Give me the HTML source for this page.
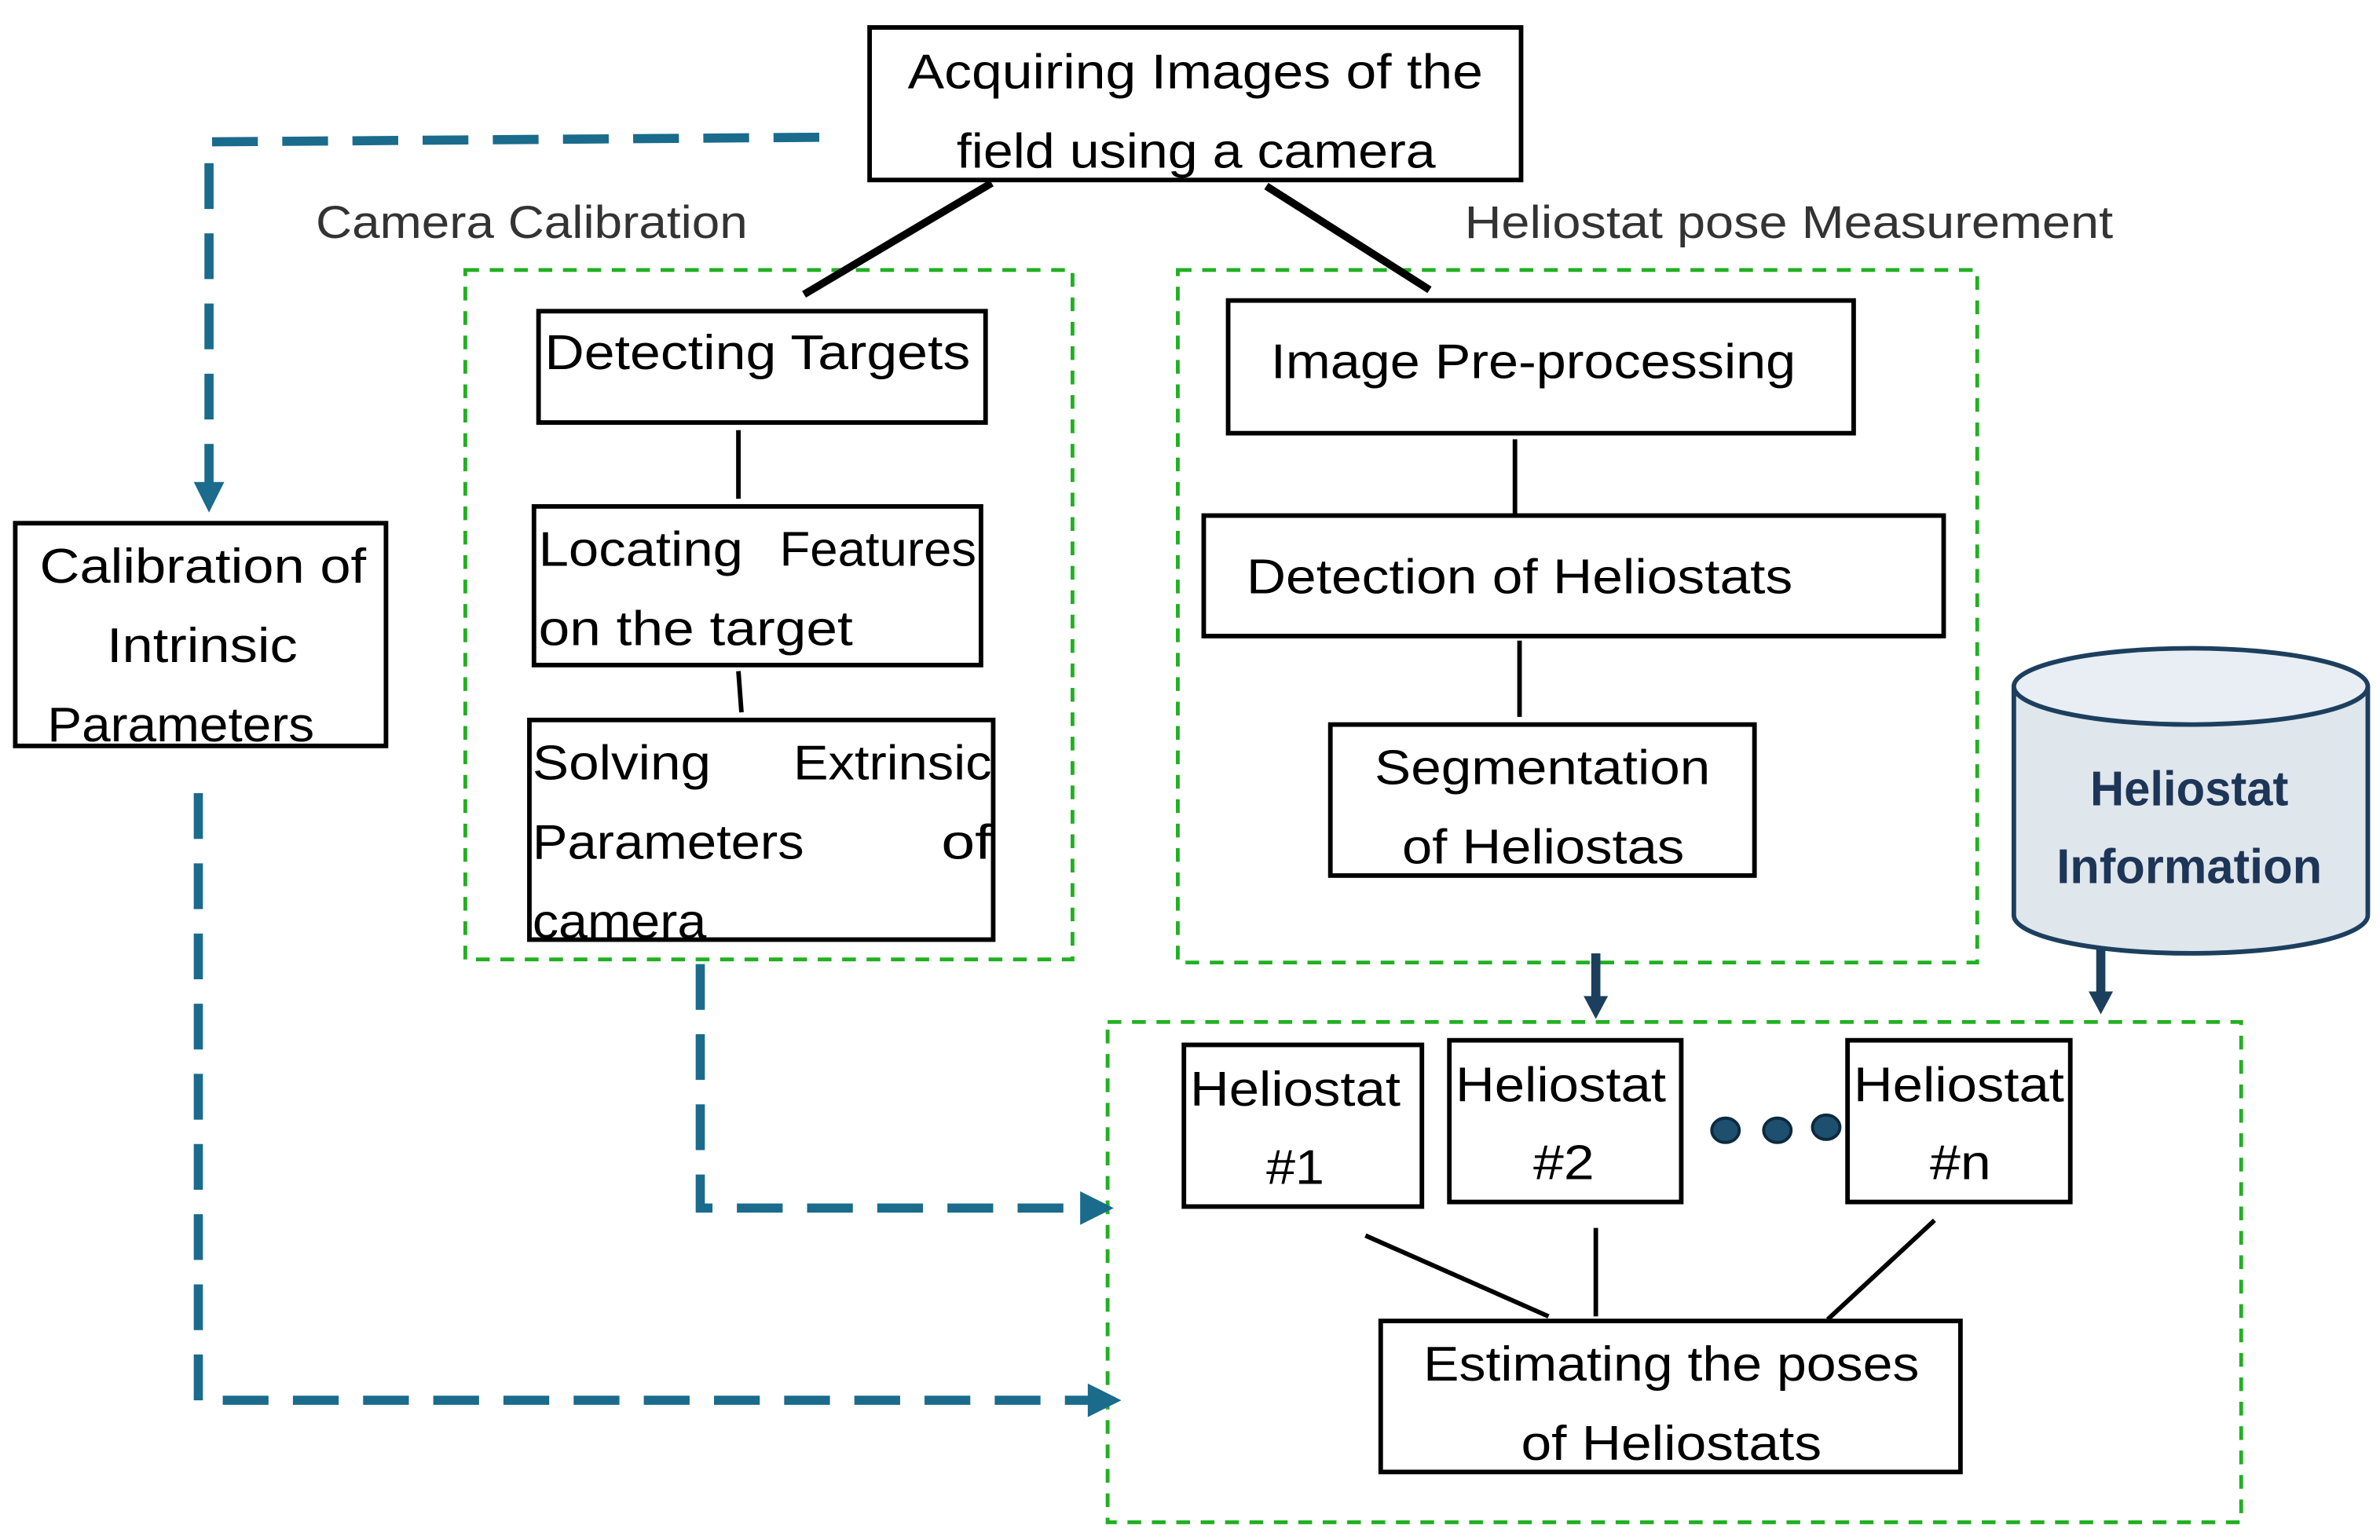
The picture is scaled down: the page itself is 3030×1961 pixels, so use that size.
<!DOCTYPE html>
<html><head><meta charset="utf-8"><style>
html,body{margin:0;padding:0;background:#fff;}
svg{display:block;}
text{font-family:"Liberation Sans","DejaVu Sans",sans-serif;font-size:32px;fill:#000;}
.lt{font-size:30px;fill:#333;}
.bx{fill:#fff;stroke:#000;stroke-width:3;}
.gd{fill:none;stroke:#22b022;stroke-width:2.5;stroke-dasharray:9 7;}
.bd{fill:none;stroke:#1a6b8c;stroke-width:6;stroke-dasharray:30 16;}
.ln{stroke:#000;stroke-width:3;}
</style></head><body>
<svg width="3030" height="1961" viewBox="0 0 1560 1009.6" preserveAspectRatio="none" xmlns="http://www.w3.org/2000/svg">
<rect width="1560" height="1010" fill="#fff"/>
<rect class="gd" x="305" y="177" width="398" height="452"/>
<rect class="gd" x="772" y="177" width="524" height="454"/>
<rect class="gd" x="726" y="670" width="743" height="328"/>
<polyline class="bd" points="537,90 137,93 137,318"/>
<polygon points="127,316 147,316 137,336" fill="#1a6b8c"/>
<polyline class="bd" points="130,520 130,918 715,918"/>
<polygon points="713,907 713,929 735,918" fill="#1a6b8c"/>
<polyline class="bd" points="459,632 459,792 710,792"/>
<polygon points="708,781 708,803 730,792" fill="#1a6b8c"/>
<line x1="650" y1="120" x2="527" y2="193" stroke="#000" stroke-width="5"/>
<line x1="830" y1="122" x2="937" y2="190" stroke="#000" stroke-width="5"/>
<line class="ln" x1="484" y1="282" x2="484" y2="327"/>
<line class="ln" x1="484" y1="440" x2="486" y2="467"/>
<line class="ln" x1="993" y1="288" x2="993" y2="337"/>
<line class="ln" x1="996" y1="420" x2="996" y2="470"/>
<line class="ln" x1="895" y1="810" x2="1015" y2="863"/>
<line class="ln" x1="1046" y1="805" x2="1046" y2="863"/>
<line class="ln" x1="1268" y1="800" x2="1198" y2="865"/>
<rect class="bx" x="570" y="18" width="427" height="100"/>
<text x="595" y="58" textLength="377" lengthAdjust="spacingAndGlyphs">Acquiring Images of the</text>
<text x="627" y="110" textLength="314" lengthAdjust="spacingAndGlyphs">field using a camera</text>
<text class="lt" x="207" y="156" textLength="283" lengthAdjust="spacingAndGlyphs">Camera Calibration</text>
<text class="lt" x="960" y="156" textLength="425" lengthAdjust="spacingAndGlyphs">Heliostat pose Measurement</text>
<rect class="bx" x="353" y="204" width="293" height="73"/>
<text x="357" y="242" textLength="279" lengthAdjust="spacingAndGlyphs">Detecting Targets</text>
<rect class="bx" x="350" y="332" width="293" height="104"/>
<text x="353" y="371" textLength="134" lengthAdjust="spacingAndGlyphs">Locating</text>
<text x="511" y="371" textLength="129" lengthAdjust="spacingAndGlyphs">Features</text>
<text x="353" y="423" textLength="206" lengthAdjust="spacingAndGlyphs">on the target</text>
<rect class="bx" x="347" y="472" width="304" height="144"/>
<text x="349" y="511" textLength="117" lengthAdjust="spacingAndGlyphs">Solving</text>
<text x="520" y="511" textLength="130" lengthAdjust="spacingAndGlyphs">Extrinsic</text>
<text x="349" y="563" textLength="178" lengthAdjust="spacingAndGlyphs">Parameters</text>
<text x="617" y="563" textLength="33" lengthAdjust="spacingAndGlyphs">of</text>
<text x="349" y="615" textLength="114" lengthAdjust="spacingAndGlyphs">camera</text>
<rect class="bx" x="10" y="343" width="243" height="146"/>
<text x="26" y="382" textLength="214" lengthAdjust="spacingAndGlyphs">Calibration of</text>
<text x="70" y="434" textLength="125" lengthAdjust="spacingAndGlyphs">Intrinsic</text>
<text x="31" y="486" textLength="175" lengthAdjust="spacingAndGlyphs">Parameters</text>
<rect class="bx" x="805" y="197" width="410" height="87"/>
<text x="833" y="248" textLength="344" lengthAdjust="spacingAndGlyphs">Image Pre-processing</text>
<rect class="bx" x="789" y="338" width="485" height="79"/>
<text x="817" y="389" textLength="358" lengthAdjust="spacingAndGlyphs">Detection of Heliostats</text>
<rect class="bx" x="872" y="475" width="278" height="99"/>
<text x="901" y="514" textLength="220" lengthAdjust="spacingAndGlyphs">Segmentation</text>
<text x="919" y="566" textLength="185" lengthAdjust="spacingAndGlyphs">of Heliostas</text>
<line x1="1046" y1="625" x2="1046" y2="655" stroke="#1d3f5e" stroke-width="6"/>
<polygon points="1038,653 1054,653 1046,668" fill="#1d3f5e"/>
<line x1="1377" y1="620" x2="1377" y2="652" stroke="#1d3f5e" stroke-width="6"/>
<polygon points="1369,650 1385,650 1377,665" fill="#1d3f5e"/>
<path d="M1320,450 L1320,600 A116,25 0 0 0 1552,600 L1552,450" fill="#dfe6ec" stroke="#1d3f5e" stroke-width="3"/>
<ellipse cx="1436" cy="450" rx="116" ry="25" fill="#e8eef3" stroke="#1d3f5e" stroke-width="3"/>
<text x="1370" y="528" textLength="130" lengthAdjust="spacingAndGlyphs" style="font-weight:bold;fill:#1d3557">Heliostat</text>
<text x="1348" y="579" textLength="174" lengthAdjust="spacingAndGlyphs" style="font-weight:bold;fill:#1d3557">Information</text>
<rect class="bx" x="776" y="685" width="156" height="106"/>
<text x="780" y="725" textLength="138" lengthAdjust="spacingAndGlyphs">Heliostat</text>
<text x="830" y="776" textLength="38" lengthAdjust="spacingAndGlyphs">#1</text>
<rect class="bx" x="950" y="682" width="152" height="106"/>
<text x="954" y="722" textLength="138" lengthAdjust="spacingAndGlyphs">Heliostat</text>
<text x="1005" y="773" textLength="40" lengthAdjust="spacingAndGlyphs">#2</text>
<rect class="bx" x="1211" y="682" width="146" height="106"/>
<text x="1215" y="722" textLength="138" lengthAdjust="spacingAndGlyphs">Heliostat</text>
<text x="1265" y="773" textLength="40" lengthAdjust="spacingAndGlyphs">#n</text>
<ellipse cx="1131" cy="741" rx="9" ry="8" fill="#1d4f6e" stroke="#0d2a3e" stroke-width="2"/>
<ellipse cx="1165" cy="741" rx="9" ry="8" fill="#1d4f6e" stroke="#0d2a3e" stroke-width="2"/>
<ellipse cx="1197" cy="739" rx="9" ry="8" fill="#1d4f6e" stroke="#0d2a3e" stroke-width="2"/>
<rect class="bx" x="905" y="866" width="380" height="99"/>
<text x="933" y="905" textLength="325" lengthAdjust="spacingAndGlyphs">Estimating the poses</text>
<text x="997" y="957" textLength="197" lengthAdjust="spacingAndGlyphs">of Heliostats</text>
</svg>
</body></html>
